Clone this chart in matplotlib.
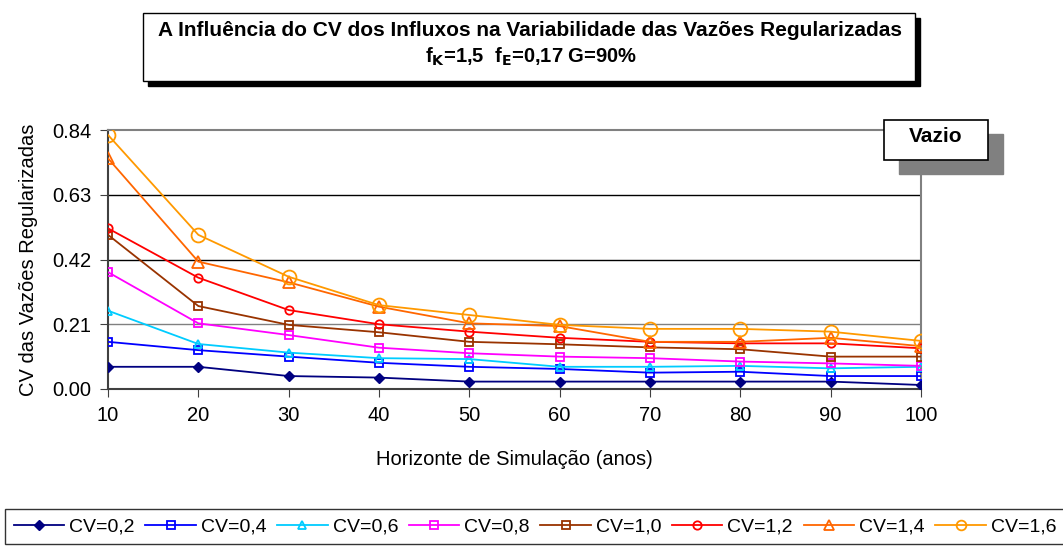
import matplotlib.pyplot as plt
from matplotlib.patches import Rectangle

plt.rcParams['font.family'] = ['Liberation Sans', 'DejaVu Sans']

anos = [10, 20, 30, 40, 50, 60, 70, 80, 90, 100]

cv02 = [0.072, 0.072, 0.042, 0.037, 0.024, 0.024, 0.024, 0.024, 0.024, 0.013]
cv04 = [0.153, 0.126, 0.105, 0.085, 0.072, 0.065, 0.053, 0.056, 0.042, 0.042]
cv06 = [0.254, 0.146, 0.118, 0.100, 0.097, 0.072, 0.072, 0.075, 0.067, 0.072]
cv08 = [0.379, 0.213, 0.175, 0.134, 0.116, 0.105, 0.100, 0.089, 0.083, 0.075]
cv10 = [0.500, 0.269, 0.208, 0.184, 0.153, 0.145, 0.135, 0.129, 0.105, 0.105]
cv12 = [0.521, 0.361, 0.256, 0.210, 0.186, 0.166, 0.153, 0.148, 0.148, 0.132]
cv14 = [0.748, 0.413, 0.346, 0.267, 0.213, 0.204, 0.153, 0.153, 0.166, 0.139]
cv16 = [0.824, 0.500, 0.364, 0.272, 0.240, 0.208, 0.195, 0.195, 0.186, 0.156]

series = [
    ('CV=0,2', cv02, '#000080', 'D', 5, 'full'),
    ('CV=0,4', cv04, '#0000FF', 's', 6, 'none'),
    ('CV=0,6', cv06, '#00CCFF', '^', 6, 'none'),
    ('CV=0,8', cv08, '#FF00FF', 's', 6, 'none'),
    ('CV=1,0', cv10, '#993300', 's', 6, 'none'),
    ('CV=1,2', cv12, '#FF0000', 'o', 6, 'none'),
    ('CV=1,4', cv14, '#FF6600', '^', 9, 'none'),
    ('CV=1,6', cv16, '#FF9900', 'o', 10, 'none'),
]

fig = plt.figure(figsize=(10.63, 5.47), dpi=100)
ax = fig.add_axes([108 / 1063, 1 - 389 / 547, 813 / 1063, 259 / 547])

for yv, c in [(0.21, '#808080'), (0.42, 'black'), (0.63, 'black')]:
    ax.axhline(yv, color=c, lw=1, zorder=1)

for nome, vals, cor, mk, ms, fill in series:
    if fill == 'full':
        ax.plot(anos, vals, color=cor, marker=mk, ms=ms, lw=1.3, label=nome, zorder=3)
    else:
        ax.plot(anos, vals, color=cor, marker=mk, ms=ms, lw=1.3, mfc='none',
                mew=1.3, label=nome, zorder=3)

ax.set_xlim(10, 100)
ax.set_ylim(0, 0.84)
ax.set_xticks(anos)
ax.set_yticks([0.0, 0.21, 0.42, 0.63, 0.84])
ax.set_yticklabels(['0.00', '0.21', '0.42', '0.63', '0.84'])
ax.tick_params(labelsize=14.5, direction='out', length=6, color='#404040', pad=6)
for s in ['top', 'right']:
    ax.spines[s].set_color('#808080')
for s in ['left', 'bottom']:
    ax.spines[s].set_color('#404040')
for s in ax.spines.values():
    s.set_linewidth(1.5)
ax.set_ylabel('CV das Vazões Regularizadas', fontsize=14.5, labelpad=10)
ax.set_xlabel('Horizonte de Simulação (anos)', fontsize=14.5, labelpad=18)

# caixa do titulo com sombra
fig.patches.append(Rectangle((148 / 1063, 1 - 86 / 547), 772 / 1063, 68 / 547,
                             transform=fig.transFigure, facecolor='black',
                             edgecolor='black', zorder=1))
fig.patches.append(Rectangle((143 / 1063, 1 - 81 / 547), 772 / 1063, 68 / 547,
                             transform=fig.transFigure, facecolor='white',
                             edgecolor='black', lw=1, zorder=2))
fig.text(530 / 1063, 1 - 30 / 547,
         'A Influência do CV dos Influxos na Variabilidade das Vazões Regularizadas',
         ha='center', va='center', fontsize=15, fontweight='bold', zorder=3)
fig.text(531 / 1063, 1 - 57 / 547, r'f$_\mathbf{K}$=1,5  f$_\mathbf{E}$=0,17 G=90%',
         ha='center', va='center', fontsize=14.5, fontweight='bold', zorder=3)

# caixa "Vazio"
fig.patches.append(Rectangle((899 / 1063, 1 - 174 / 547), 104 / 1063, 40 / 547,
                             transform=fig.transFigure, facecolor='#808080',
                             edgecolor='#808080', zorder=4))
fig.patches.append(Rectangle((884 / 1063, 1 - 160 / 547), 104 / 1063, 40 / 547,
                             transform=fig.transFigure, facecolor='white',
                             edgecolor='black', lw=1.2, zorder=5))
fig.text(936 / 1063, 1 - 136 / 547, 'Vazio', ha='center', va='center',
         fontsize=15, fontweight='bold', zorder=6)

leg = fig.legend(loc='upper left', bbox_to_anchor=(5 / 1063, 1 - 509 / 547),
                 ncol=8, fontsize=14, frameon=True, fancybox=False,
                 handlelength=2.6, columnspacing=0.55, handletextpad=0.25,
                 borderpad=0.45, borderaxespad=0)
leg.get_frame().set_edgecolor('black')
leg.get_frame().set_linewidth(1)
for h in leg.legend_handles:
    h.set_markersize(min(h.get_markersize(), 7))

fig.savefig('out.png', dpi=100)
